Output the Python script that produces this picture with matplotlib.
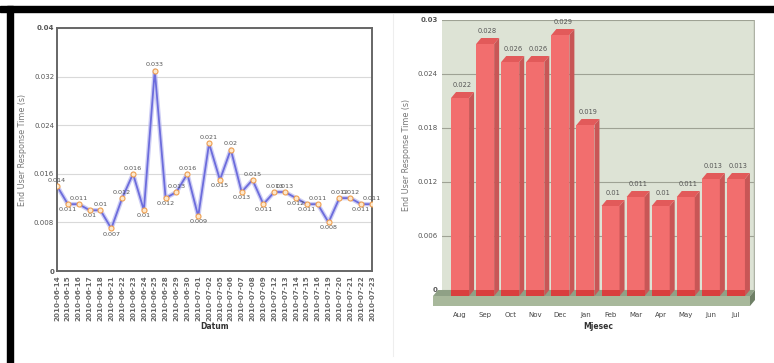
import matplotlib.pyplot as plt
from matplotlib.patches import Polygon, Rectangle
import numpy as np

# left chart: daily response time
dates = ["2010-06-14", "2010-06-15", "2010-06-16", "2010-06-17", "2010-06-18",
         "2010-06-21", "2010-06-22", "2010-06-23", "2010-06-24", "2010-06-25",
         "2010-06-28", "2010-06-29", "2010-06-30", "2010-07-01", "2010-07-02",
         "2010-07-05", "2010-07-06", "2010-07-07", "2010-07-08", "2010-07-09",
         "2010-07-12", "2010-07-13", "2010-07-14", "2010-07-15", "2010-07-16",
         "2010-07-19", "2010-07-20", "2010-07-21", "2010-07-22", "2010-07-23"]
daily = [0.014, 0.011, 0.011, 0.01, 0.01, 0.007, 0.012, 0.016, 0.01, 0.033,
         0.012, 0.013, 0.016, 0.009, 0.021, 0.015, 0.02, 0.013, 0.015, 0.011,
         0.013, 0.013, 0.012, 0.011, 0.011, 0.008, 0.012, 0.012, 0.011, 0.011]
left_ticks = [0, 0.008, 0.016, 0.024, 0.032, 0.04]
left_ticklabels = ["0", "0.008", "0.016", "0.024", "0.032", "0.04"]

# right chart: monthly response time
months = ["Aug", "Sep", "Oct", "Nov", "Dec", "Jan", "Feb", "Mar", "Apr", "May", "Jun", "Jul"]
monthly = [0.022, 0.028, 0.026, 0.026, 0.029, 0.019, 0.01, 0.011, 0.01, 0.011, 0.013, 0.013]
right_ticks = [0, 0.006, 0.012, 0.018, 0.024, 0.03]
right_ticklabels = ["0", "0.006", "0.012", "0.018", "0.024", "0.03"]

W, H = 774, 363
fig = plt.figure(figsize=(W / 100, H / 100), dpi=100)
fig.patch.set_facecolor("white")

def box(x0, y0, x1, y1):
    return [x0 / W, 1 - y1 / H, (x1 - x0) / W, (y1 - y0) / H]

# black frame bits
fig.patches.append(Rectangle((0, 1 - 12 / H), 1, 6 / H, transform=fig.transFigure,
                             color="black", zorder=-1))
fig.patches.append(Rectangle((7 / W, 0), 6 / W, 1 - 6 / H, transform=fig.transFigure,
                             color="black", zorder=-1))
fig.add_artist(plt.Line2D([393 / W, 393 / W], [0.02, 1 - 14 / H], transform=fig.transFigure,
                          color="#eeeeee", lw=0.8))

# ---------------- left: line chart ----------------
ax = fig.add_axes(box(57, 28, 372, 271))
x = np.arange(len(daily))
ax.plot(x, daily, color="#b8b8f0", lw=3.2, alpha=0.7, zorder=2)
ax.plot(x, daily, color="#6c6cdc", lw=1.3, zorder=3)
ax.plot(x, daily, "o", ms=3.6, mfc="#fde8cc", mec="#f0a050", mew=0.8, zorder=4)
for i, v in enumerate(daily):
    above = i == 0 or v >= daily[i - 1]
    ax.annotate(f"{v:g}", (i, v), xytext=(0, 2.2 if above else -2.2),
                textcoords="offset points", ha="center",
                va="bottom" if above else "top", fontsize=4.6, color="#555555")
ax.set_xlim(0, len(daily) - 1)
ax.set_ylim(0, 0.04)
ax.set_yticks(left_ticks)
ax.set_yticklabels(left_ticklabels)
for lab in ax.get_yticklabels():
    if lab.get_text() in ("0", "0.04"):
        lab.set_fontweight("bold")
ax.set_xticks(x)
ax.set_xticklabels(dates, rotation=90, fontsize=5.1, color="#666666", fontweight="bold")
ax.tick_params(axis="y", length=0, labelsize=5, labelcolor="#555555", pad=2)
ax.tick_params(axis="x", length=0, pad=3)
ax.grid(axis="y", color="#d9d9d9", lw=0.8)
ax.set_axisbelow(True)
for s in ax.spines.values():
    s.set_color("#666666")
    s.set_linewidth(1.4)
ax.set_xlabel("Datum", fontsize=5.5, fontweight="bold", color="#333333", labelpad=1)
ax.set_ylabel("End User Response Time (s)", fontsize=5.8, color="#777777", labelpad=5)

# ---------------- right: 3D bar chart ----------------
ax2 = fig.add_axes(box(442, 20, 755, 290))
ax2.set_facecolor("#dde3d5")
xm = np.arange(len(monthly))
xmin, xmax = -0.72, len(monthly) - 0.24
ax2.set_xlim(xmin, xmax)
ax2.set_ylim(0, 0.03)
px_x = (xmax - xmin) / 313.0
px_y = 0.03 / 270.0
dx, dy = 5 * px_x, 6 * px_y
w = 18 * px_x
t = 10 * px_y

ax2.grid(axis="y", color="#9ea294", lw=0.8)
ax2.set_axisbelow(True)

# floor slab
fl, fr = xmin - dx - 4 * px_x, xmax - dx
floor_kw = dict(clip_on=False, zorder=3)
ax2.add_patch(Polygon([(fl, -dy), (fr, -dy), (fr + dx, 0), (fl + dx, 0)],
                      facecolor="#8fa186", edgecolor="none", **floor_kw))
ax2.add_patch(Polygon([(fl, -dy - t), (fr, -dy - t), (fr, -dy), (fl, -dy)],
                      facecolor="#a8b89b", edgecolor="none", **floor_kw))
ax2.add_patch(Polygon([(fr, -dy - t), (fr + dx, -t), (fr + dx, 0), (fr, -dy)],
                      facecolor="#6f8066", edgecolor="none", **floor_kw))

# bars
ax2.bar(xm, monthly, width=w, bottom=-dy, color="#f26e6e", zorder=4, clip_on=False)
ax2.bar(xm, [dy] * len(monthly), width=w, bottom=-dy, color="#d93e3e", zorder=5, clip_on=False)
for xi, v in zip(xm, monthly):
    r = xi + w / 2
    ax2.add_patch(Polygon([(r, -dy), (r + dx, 0), (r + dx, v), (r, v - dy)],
                          facecolor="#c85656", edgecolor="none", zorder=4, clip_on=False))
    ax2.add_patch(Polygon([(xi - w / 2, v - dy), (r, v - dy), (r + dx, v), (xi - w / 2 + dx, v)],
                          facecolor="#e25a5a", edgecolor="none", zorder=4, clip_on=False))
    ax2.annotate(f"{v:g}", (xi + dx / 2, v), xytext=(0, 3), textcoords="offset points",
                 ha="center", va="bottom", fontsize=4.8, color="#555555", zorder=6)

# back wall right edge shading
ax2.axvline(xmax, color="#aeb2a5", lw=2.5, zorder=2)

ax2.set_yticks(right_ticks)
ax2.set_yticklabels(right_ticklabels)
for lab in ax2.get_yticklabels():
    if lab.get_text() in ("0", "0.03"):
        lab.set_fontweight("bold")
ax2.set_xticks(xm)
ax2.set_xticklabels(months)
ax2.tick_params(axis="y", length=0, labelsize=5, labelcolor="#555555", pad=3)
ax2.tick_params(axis="x", length=0, labelsize=5, labelcolor="#444444", pad=16)
for s in ax2.spines.values():
    s.set_visible(False)
ax2.set_xlabel("Mjesec", fontsize=5.5, fontweight="bold", color="#333333", labelpad=3)
ax2.set_ylabel("End User Response Time (s)", fontsize=5.8, color="#777777", labelpad=5)

fig.savefig("out.png", dpi=100)
